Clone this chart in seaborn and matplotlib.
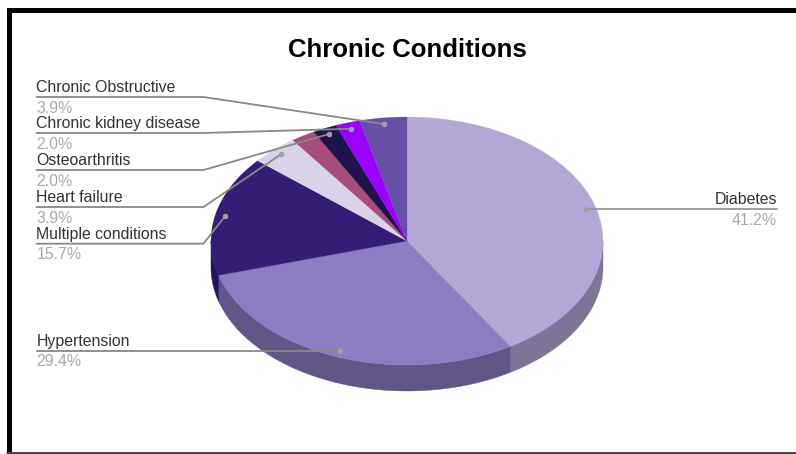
import numpy as np
import matplotlib
matplotlib.use("Agg")
import matplotlib.pyplot as plt
import seaborn as sns

labels = ["Diabetes", "Hypertension", "Multiple conditions", "Heart failure",
          "", "Osteoarthritis", "Chronic kidney disease", "Chronic Obstructive"]
shares = [41.2, 29.4, 15.7, 3.9, 2.0, 2.0, 2.0, 3.9]
top_colors = ["#b4a7d6", "#8e7cc3", "#351c75", "#d9d2e9",
              "#a64d79", "#20124d", "#9900ff", "#674ea7"]
side_colors = ["#7f7497", "#625588", "#25145a", "#9a95a5",
               "#753756", "#170d37", "#6c00b4", "#493776"]

W, H = 796, 454
CX, CY, RX, RY, DEPTH = 407, 241, 196, 124, 26

sns.set_theme(style="white")
plt.rcParams["font.family"] = ["Liberation Sans", "DejaVu Sans"]

fig = plt.figure(figsize=(W / 100, H / 100), dpi=100, facecolor="white")

# Pie axes stretched so the unit circle becomes the tilted ellipse.
pie_ax = fig.add_axes([(CX - RX) / W, (H - CY - RY) / H, 2 * RX / W, 2 * RY / H])
palette = sns.color_palette(top_colors)

# Extruded rim: only the front half of each slice shows a wall.
edges = np.concatenate([[0], np.cumsum(shares)]) / sum(shares) * 360
for start, stop, shade in zip(edges[:-1], edges[1:], side_colors):
    lo, hi = max(start, 90), min(stop, 270)
    if lo >= hi:
        continue
    t = np.radians(np.linspace(lo, hi, 80))
    x, y = np.sin(t), np.cos(t)
    drop = DEPTH / RY
    pie_ax.fill(np.r_[x, x[::-1]], np.r_[y, y[::-1] - drop], color=shade, lw=0.3,
                clip_on=False, zorder=1)

wedges, _ = pie_ax.pie(shares, colors=palette, startangle=90, counterclock=False,
                       wedgeprops={"linewidth": 0.2, "zorder": 2})
for w, c in zip(wedges, palette):
    w.set_clip_on(False)
    w.set_edgecolor(c)
pie_ax.set_aspect("auto")
pie_ax.set_xlim(-1, 1)
pie_ax.set_ylim(-1, 1)

# Pixel-space overlay for leaders, labels, title and the border.
ov = fig.add_axes([0, 0, 1, 1], facecolor="none")
ov.set_xlim(0, W)
ov.set_ylim(H, 0)
ov.axis("off")

ov.fill_between([7, 12], 8, 452, color="black", lw=0)
ov.fill_between([7, W], 8, 13, color="black", lw=0)
ov.plot([7, W], [452.5, 452.5], color="#222222", lw=1.2)

ov.text(407, 57, "Chronic Conditions", ha="center", va="baseline",
        fontsize=18.5, fontweight="bold", color="black")

LEFT_X, ELBOW_X, RIGHT_X = 36.5, 203.5, 777
rows = {"Diabetes": 209, "Hypertension": 350.7, "Multiple conditions": 243.7,
        "Heart failure": 207, "Osteoarthritis": 170,
        "Chronic kidney disease": 133, "Chronic Obstructive": 97}

mids = (edges[:-1] + edges[1:]) / 2
for name, share, mid in zip(labels, shares, mids):
    if not name:
        continue
    a = np.radians(mid)
    dot_x = CX + RX * 0.95 * np.sin(a)
    dot_y = CY - RY * 0.95 * np.cos(a)
    row = rows[name]
    value = f"{share:.1f}%"
    if name == "Diabetes":
        ov.plot([dot_x, RIGHT_X], [row, row], color="#999999", lw=1.3, zorder=3)
        tx, ha = RIGHT_X, "right"
    elif name == "Hypertension":
        ov.plot([LEFT_X, dot_x], [row, row], color="#888888", lw=1.3, zorder=3)
        tx, ha = LEFT_X, "left"
    else:
        ov.plot([LEFT_X, ELBOW_X, dot_x], [row, row, dot_y], color="#888888",
                lw=1.3, zorder=3)
        tx, ha = LEFT_X, "left"
    ov.plot([dot_x], [dot_y], "o", ms=4, color="#a0a0a0", mew=0, zorder=4)
    ov.text(tx, row - 4.7, name, ha=ha, va="baseline", fontsize=11.4, color="#333333")
    ov.text(tx, row + 15.7, value, ha=ha, va="baseline", fontsize=11.4, color="#aaaaaa")

fig.savefig("out.png", dpi=100)
